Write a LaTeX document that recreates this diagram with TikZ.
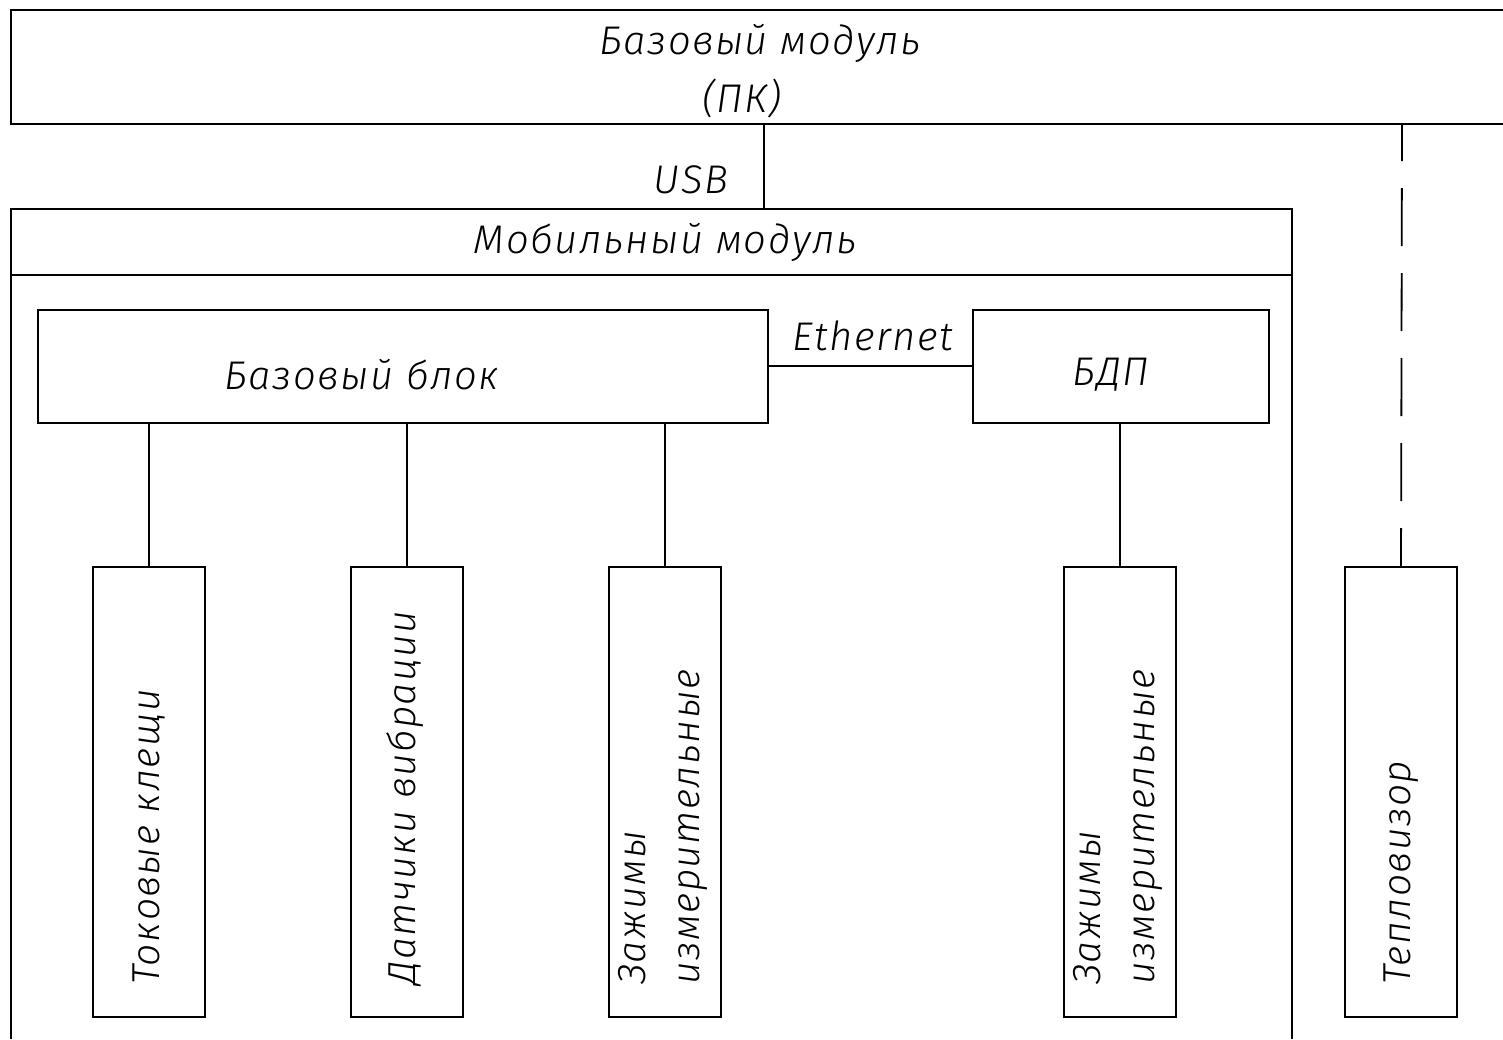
\documentclass[tikz,border=0pt]{standalone}
\usepackage{fontspec}
\setmainfont{Fira Sans}[ItalicFont={Fira Sans Light Italic}, LetterSpace=4]
\begin{document}
\begin{tikzpicture}[x=1pt,y=-1pt,
  box/.style={draw, line width=1.8pt},
  conn/.style={line width=1.8pt},
  lbl/.style={inner sep=0pt, font=\fontsize{40}{56}\selectfont\itshape},
  vlbl/.style={inner sep=0pt, rotate=90, anchor=west, align=left, font=\fontsize{39}{54}\selectfont\itshape}]
\useasboundingbox (0,0) rectangle (1503,1039);
% top module (open to the right)
\draw[box] (1503,10) -- (11,10) -- (11,124) -- (1503,124);
\node[lbl] (pc1) at (760,43) {Базовый модуль};
\node[lbl] (pc2) at (742,98) {(ПК)};
\coordinate (pcbot) at (764,124);
\coordinate (pcbot2) at (1402,124);
% mobile module (open at bottom)
\draw[box] (11,1039) -- (11,209) -- (1292,209) -- (1292,1039);
\draw[box] (11,275) -- (1292,275);
\coordinate (mtop) at (764,209);
\node[lbl] (mob) at (665,242) {Мобильный модуль};
\draw[conn] (pcbot) -- (mtop);
\node[lbl] (usb) at (691,180) {USB};
% base block and BDP
\node[box, minimum width=730pt, minimum height=113pt, anchor=north west, inner sep=0pt] (bb) at (37,309) {};
\node[lbl] at (362,375) {Базовый блок};
\node[box, minimum width=296pt, minimum height=113pt, anchor=north west, inner sep=0pt] (bdp) at (972,309) {};
\node[lbl] at (1111,375) {БДП};
\draw[conn] (bb.east |- 0,366) -- (bdp.west |- 0,366);
\node[lbl] (eth) at (873,336) {Ethernet};
% lower boxes
\foreach \n/\x in {t1/149, t2/407, t3/665, t4/1120, t5/1401}{
  \node[box, minimum width=112pt, minimum height=450pt, anchor=north, inner sep=0pt] (\n) at (\x,566) {};
}
\node[vlbl] at (149,985) {Токовые клещи};
\node[vlbl] at (405,985) {Датчики вибрации};
\node[vlbl] at (663,985) {Зажимы\\измерительные};
\node[vlbl] at (1118,985) {Зажимы\\измерительные};
\node[vlbl] at (1401,985) {Тепловизор};
\draw[conn] (bb.south -| t1.north) -- (t1.north);
\draw[conn] (bb.south -| t2.north) -- (t2.north);
\draw[conn] (bb.south -| t3.north) -- (t3.north);
\draw[conn] (bdp.south -| t4.north) -- (t4.north);
\draw[conn, dash pattern=on 58pt off 27pt, dash phase=21pt] (pcbot2) -- (t5.north);
\end{tikzpicture}
\end{document}
